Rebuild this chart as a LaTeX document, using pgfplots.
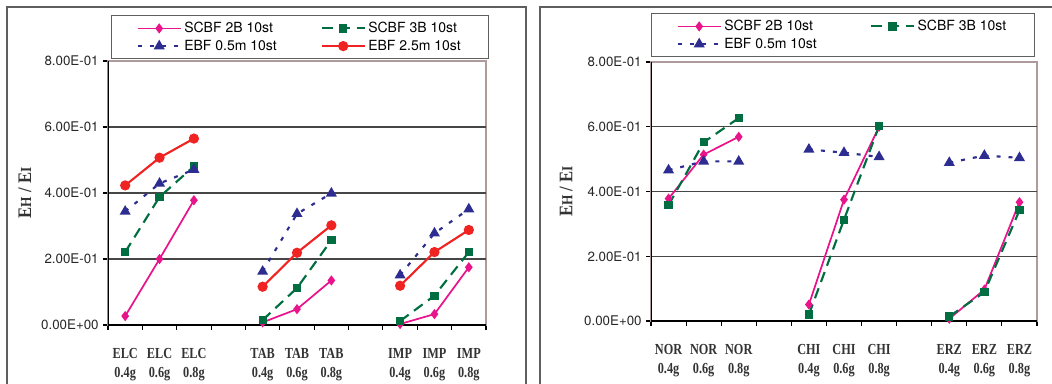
\documentclass[border=0pt]{standalone}
\usepackage{pgfplots}
\pgfplotsset{compat=1.18}
\usepackage{fontspec}
\setmainfont{TeX Gyre Heros}
\newfontfamily\serifb{Liberation Serif}
\usepackage{graphicx}

\definecolor{cpink}{RGB}{232,20,140}
\definecolor{cgreen}{RGB}{0,110,65}
\definecolor{cblue}{RGB}{45,45,145}
\definecolor{cred}{RGB}{240,35,35}
\definecolor{gridc}{RGB}{70,70,70}
\definecolor{bordc}{RGB}{175,155,155}
\definecolor{framec}{RGB}{95,95,95}

\newcommand{\xl}[2]{\scalebox{0.8}[1]{\begin{tabular}{@{}c@{}}#1\\#2\end{tabular}}}
\newcommand{\ylab}{\scalebox{1}[1.15]{\serifb\bfseries\fontsize{12.5}{15}\selectfont E\scalebox{0.8}{H} / E\scalebox{0.8}{I}}}

\pgfplotsset{
  panel/.style={
    scale only axis,
    xmin=0.5, xmax=11.5, ymin=0, ymax=0.8,
    axis line style={draw=bordc, line width=0.8pt},
    xtick={0.5,1.5,...,11.5}, xticklabels={},
    xtick pos=left, ytick pos=left,
    tick align=outside,
    major tick length=3.5pt,
    tick style={black, line width=0.8pt},
    ytick={0,0.2,0.4,0.6,0.8},
    yticklabels={0.00E+00,2.00E-01,4.00E-01,6.00E-01,8.00E-01},
    yticklabel style={font=\fontsize{10}{12}\selectfont, text=black!85},
    extra x ticks={1,2,3,5,6,7,9,10,11},
    extra x tick style={tick style={draw=none}},
    xticklabel style={font=\serifb\bfseries\fontsize{11.5}{14.25}\selectfont, text=black!80, yshift=-8pt},
    unbounded coords=jump,
    ylabel={\ylab},
    ylabel style={at={(axis description cs:-0.22,0.5)}, anchor=center, text=black!80},
    legend columns=2,
    legend cell align=left,
    legend style={draw=framec, line width=0.7pt, font=\fontsize{10.5}{12}\selectfont, anchor=north west,
      inner xsep=19pt, inner ysep=3pt, row sep=0pt},
    legend image code/.code={\draw[mark repeat=2,mark phase=2] plot coordinates {(0pt,0pt) (16pt,0pt) (32pt,0pt)};},
  },
  s2b/.style={cpink, line width=1.3pt, mark=diamond*, mark size=2.8pt, mark options={solid}},
  s3b/.style={cgreen, line width=1.6pt, dash pattern=on 8pt off 5pt, mark=square*, mark size=2.3pt, mark options={solid}},
  e05/.style={cblue, line width=1.6pt, dash pattern=on 3pt off 6pt, mark=triangle*, mark size=3.2pt, mark options={solid}},
  e25/.style={cred, line width=1.6pt, mark=*, mark size=3pt, mark options={solid}},
}

\begin{document}
\begin{tikzpicture}
\useasboundingbox (0,0) rectangle (789pt,287.25pt);
\draw[framec, line width=1.5pt] (5.25pt,-2pt) -- (5.25pt,282pt) -- (394.5pt,282pt) -- (394.5pt,-2pt);
\draw[framec, line width=1.5pt] (405pt,-2pt) -- (405pt,282pt) -- (791pt,282pt);

\begin{axis}[panel, at={(81pt,43.5pt)}, anchor=south west, width=283.5pt, height=198pt,
  extra x tick labels={\xl{ELC}{0.4g},\xl{ELC}{0.6g},\xl{ELC}{0.8g},\xl{TAB}{0.4g},\xl{TAB}{0.6g},\xl{TAB}{0.8g},\xl{IMP}{0.4g},\xl{IMP}{0.6g},\xl{IMP}{0.8g}},
  legend style={at={(axis description cs:0.008,1.174)}, /tikz/every even column/.append style={column sep=31pt}}]
\draw[gridc, line width=0.8pt] (rel axis cs:0,0.25) -- (rel axis cs:1,0.25);
\draw[gridc, line width=0.8pt] (rel axis cs:0,0.5) -- (rel axis cs:1,0.5);
\draw[gridc, line width=0.8pt] (rel axis cs:0,0.75) -- (rel axis cs:1,0.75);
\draw[black, line width=0.9pt] (rel axis cs:0,1) -- (rel axis cs:0,0) -- (rel axis cs:1,0);
\addplot[s2b] coordinates {(1,0.027) (2,0.200) (3,0.378) (4,nan) (5,0.008) (6,0.048) (7,0.135) (8,nan) (9,0.003) (10,0.033) (11,0.175)};
\addlegendentry{SCBF 2B 10st}
\addplot[s3b] coordinates {(1,0.221) (2,0.388) (3,0.481) (4,nan) (5,0.015) (6,0.112) (7,0.257) (8,nan) (9,0.012) (10,0.089) (11,0.221)};
\addlegendentry{SCBF 3B 10st}
\addplot[e05] coordinates {(1,0.344) (2,0.429) (3,0.471) (4,nan) (5,0.162) (6,0.337) (7,0.399) (8,nan) (9,0.151) (10,0.278) (11,0.351)};
\addlegendentry{EBF 0.5m 10st}
\addplot[e25] coordinates {(1,0.423) (2,0.507) (3,0.565) (4,nan) (5,0.116) (6,0.219) (7,0.302) (8,nan) (9,0.119) (10,0.221) (11,0.288)};
\addlegendentry{EBF 2.5m 10st}
\end{axis}

\begin{axis}[panel, at={(488.25pt,46.5pt)}, anchor=south west, width=289.5pt, height=194.25pt,
  extra x tick labels={\xl{NOR}{0.4g},\xl{NOR}{0.6g},\xl{NOR}{0.8g},\xl{CHI}{0.4g},\xl{CHI}{0.6g},\xl{CHI}{0.8g},\xl{ERZ}{0.4g},\xl{ERZ}{0.6g},\xl{ERZ}{0.8g}},
  legend style={at={(axis description cs:0.0,1.189)}, /tikz/every even column/.append style={column sep=38pt}}]
\draw[gridc, line width=0.8pt] (rel axis cs:0,0.25) -- (rel axis cs:1,0.25);
\draw[gridc, line width=0.8pt] (rel axis cs:0,0.5) -- (rel axis cs:1,0.5);
\draw[gridc, line width=0.8pt] (rel axis cs:0,0.75) -- (rel axis cs:1,0.75);
\draw[black, line width=0.9pt] (rel axis cs:0,1) -- (rel axis cs:0,0) -- (rel axis cs:1,0);
\addplot[s2b] coordinates {(1,0.378) (2,0.514) (3,0.569) (4,nan) (5,0.051) (6,0.375) (7,0.600) (8,nan) (9,0.007) (10,0.097) (11,0.367)};
\addlegendentry{SCBF 2B 10st}
\addplot[s3b] coordinates {(1,0.358) (2,0.552) (3,0.627) (4,nan) (5,0.020) (6,0.313) (7,0.602) (8,nan) (9,0.014) (10,0.089) (11,0.342)};
\addlegendentry{SCBF 3B 10st}
\addplot[e05] coordinates {(1,0.466) (2,0.493) (3,0.493) (4,nan) (5,0.530) (6,0.520) (7,0.507) (8,nan) (9,0.489) (10,0.511) (11,0.504)};
\addlegendentry{EBF 0.5m 10st}
\end{axis}
\end{tikzpicture}
\end{document}
